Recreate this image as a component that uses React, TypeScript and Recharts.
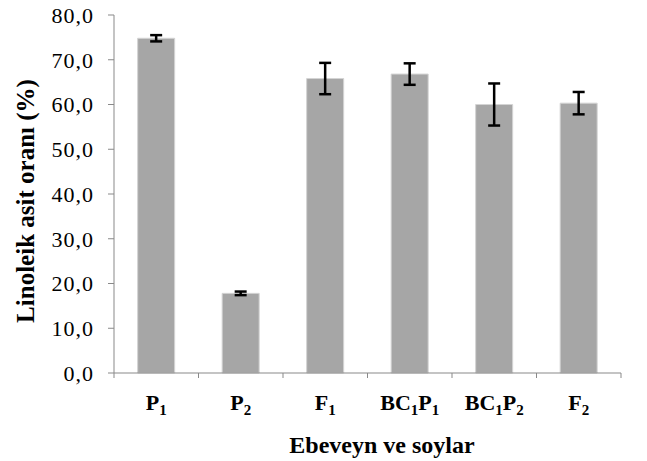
import React from 'react';
import { BarChart, Bar, XAxis, YAxis, ErrorBar, Label } from 'recharts';

const categories = ['P1', 'P2', 'F1', 'BC1P1', 'BC1P2', 'F2'];
const means = [74.8, 17.8, 65.8, 66.8, 60.0, 60.3];
const errors = [0.7, 0.4, 3.5, 2.4, 4.7, 2.5];
const yTicks = [0, 10, 20, 30, 40, 50, 60, 70, 80];
const boundaryTicks = [0, 1, 2, 3, 4, 5, 6];
const yTitle = 'Linoleik  asit oranı (%)';
const xTitle = 'Ebeveyn ve soylar';

const data = categories.map((c, i) => ({ name: c, value: means[i], err: errors[i] }));

const FONT = '"Liberation Serif", "Times New Roman", serif';

const CatTick = (props: any) => {
  const { x, y, payload } = props;
  const parts: string[] = String(payload.value).match(/[A-Za-z]+|\d+/g) || [];
  let sub = false;
  return (
    <text x={x} y={y + 31} textAnchor="middle" fontFamily={FONT} fontWeight="bold" fontSize={22} fill="#000">
      {parts.map((p, i) => {
        const isNum = /\d/.test(p);
        let dy = 0;
        if (isNum && !sub) { dy = 5; sub = true; }
        else if (!isNum && sub) { dy = -5; sub = false; }
        return (
          <tspan key={i} dy={dy} fontSize={isNum ? 15 : 22}>{p}</tspan>
        );
      })}
    </text>
  );
};

const EmptyTick = () => <g />;

const fmt = (v: number) => v.toFixed(1).replace('.', ',');

export default function App() {
  return (
    <div style={{ position: 'absolute', left: 0, top: 0, background: '#fff' }}>
      <BarChart
        width={647}
        height={461}
        data={data}
        margin={{ top: 15, right: 26, bottom: 0, left: 0 }}
        barCategoryGap="28%"
      >
        <XAxis
          xAxisId={0}
          type="number"
          dataKey="value"
          domain={[0, 6]}
          ticks={boundaryTicks}
          interval={0}
          allowDataOverflow
          height={6}
          axisLine={{ stroke: '#898989', strokeWidth: 1 }}
          tickLine={{ stroke: '#898989', strokeWidth: 1 }}
          tickSize={5}
          tick={<EmptyTick />}
        />
        <XAxis
          xAxisId={1}
          dataKey="name"
          height={82}
          axisLine={false}
          tickLine={false}
          tickSize={0}
          tickMargin={0}
          tick={<CatTick />}
          interval={0}
        >
          <Label
            content={() => (
              <text x={382} y={453} textAnchor="middle" fontFamily={FONT} fontWeight="bold" fontSize={24} fill="#000">
                {xTitle}
              </text>
            )}
          />
        </XAxis>
        <YAxis
          width={114}
          domain={[0, 80]}
          ticks={yTicks}
          tickFormatter={fmt}
          axisLine={{ stroke: '#898989', strokeWidth: 1 }}
          tickLine={{ stroke: '#898989', strokeWidth: 1 }}
          tickSize={6}
          tickMargin={14}
          tick={{ fontFamily: FONT, fontSize: 22, fill: '#000', letterSpacing: 1 }}
        >
          <Label
            content={() => (
              <text
                x={25}
                y={201}
                transform="rotate(-90 25 201)"
                textAnchor="middle"
                dominantBaseline="central"
                fontFamily={FONT}
                fontWeight="bold"
                fontSize={25}
                fill="#000"
              >
                {yTitle}
              </text>
            )}
          />
        </YAxis>
        <Bar xAxisId={1} dataKey="value" fill="#a6a6a6" stroke="#d4d4d4" strokeWidth={1} isAnimationActive={false}>
          <ErrorBar dataKey="err" width={6} stroke="#000" strokeWidth={2.5} direction="y" />
        </Bar>
      </BarChart>
    </div>
  );
}
